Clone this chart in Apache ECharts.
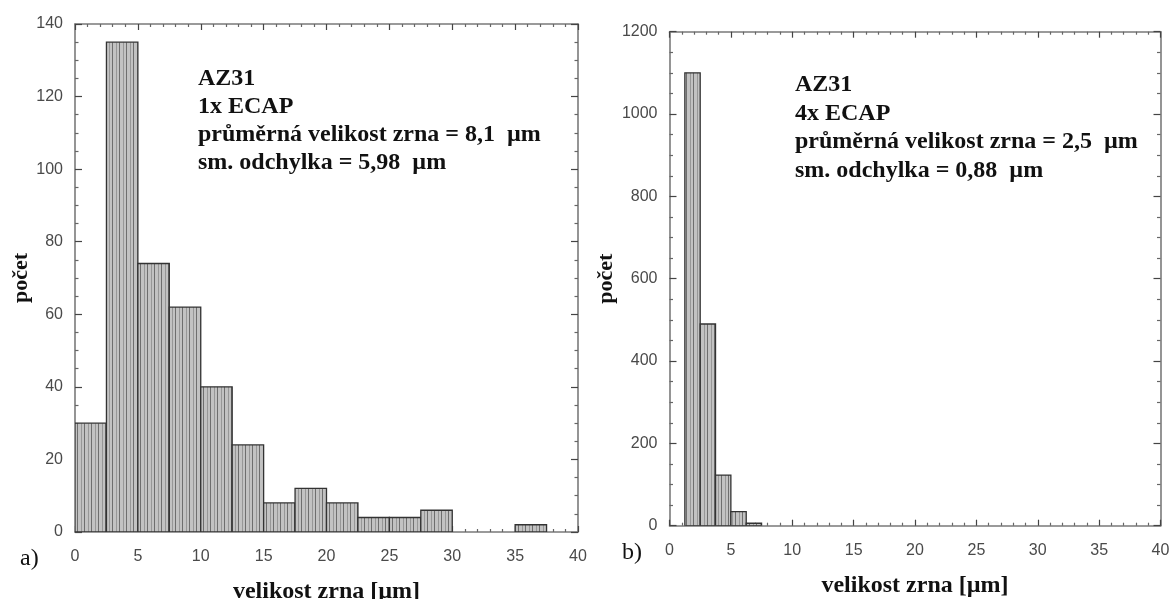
<!DOCTYPE html>
<html>
<head>
<meta charset="utf-8">
<script src="https://cdn.jsdelivr.net/npm/echarts@6/dist/echarts.min.js"></script>
<style>
html,body{margin:0;padding:0;background:#fff;}
#chart{width:1171px;height:599px;}
</style>
</head>
<body>
<div id="chart"></div>
<script>
// ---- data ----
const edgesA = [0, 2.5, 5, 7.5, 10, 12.5, 15, 17.5, 20, 22.5, 25, 27.5, 30, 32.5, 35, 37.5, 40];
const countsA = [30, 135, 74, 62, 40, 24, 8, 12, 8, 4, 4, 6, 0, 0, 2, 0];
const edgesB = [0, 1.25, 2.5, 3.75, 5, 6.25, 7.5, 8.75];
const countsB = [0, 1100, 490, 123, 34, 6, 0];

const annotA = ['AZ31', '1x ECAP', 'průměrná velikost zrna = 8,1  µm', 'sm. odchylka = 5,98  µm'];
const annotB = ['AZ31', '4x ECAP', 'průměrná velikost zrna = 2,5  µm', 'sm. odchylka = 0,88  µm'];
const xName = 'velikost zrna [µm]';
const yName = 'počet';
const panelLabels = ['a)', 'b)'];

// ---- styles ----
function makePattern() {
  const c = document.createElement('canvas');
  c.width = 7; c.height = 4;
  const g = c.getContext('2d');
  g.fillStyle = '#c2c2c2'; g.fillRect(0, 0, 7, 4);
  g.fillStyle = '#6e6e6e'; g.fillRect(0, 0, 1, 4);
  g.fillStyle = '#979797'; g.fillRect(4, 0, 1, 4);
  return c;
}
const pattern = { image: makePattern(), repeat: 'repeat' };

function toBins(edges, counts) {
  return counts.map((c, i) => [edges[i], edges[i + 1], c]);
}

function renderBar(params, api) {
  const x0 = api.value(0), x1 = api.value(1), v = api.value(2);
  if (!v) return null;
  const p0 = api.coord([x0, v]);
  const p1 = api.coord([x1, 0]);
  return {
    type: 'rect',
    shape: { x: p0[0], y: p0[1], width: p1[0] - p0[0], height: p1[1] - p0[1] },
    style: { fill: pattern, stroke: '#333333', lineWidth: 1.3 }
  };
}

const labelFont = { fontFamily: 'Liberation Sans', fontSize: 16, color: '#4a4a4a', formatter: v => String(v) };

function xAx(gridIndex, pos, showLabel) {
  return {
    type: 'value', gridIndex, position: pos, min: 0, max: 40, interval: 5,
    axisLine: { show: true, onZero: false, lineStyle: { color: '#7a7a7a', width: 1.6 } },
    axisTick: { show: true, inside: true, length: 6, lineStyle: { color: '#444', width: 1.2 } },
    minorTick: { show: true, splitNumber: 5, length: 3, lineStyle: { color: '#666', width: 1.2 } },
    splitLine: { show: false },
    axisLabel: Object.assign({ show: showLabel, margin: 17 }, labelFont),
    name: showLabel ? xName : '',
    nameLocation: 'middle', nameGap: gridIndex === 0 ? 48 : 48,
    nameTextStyle: { fontFamily: 'Liberation Serif', fontWeight: 'bold', fontSize: 24, color: '#111' }
  };
}
function yAx(gridIndex, pos, showLabel, max, interval) {
  return {
    type: 'value', gridIndex, position: pos, min: 0, max, interval,
    axisLine: { show: true, onZero: false, lineStyle: { color: '#7a7a7a', width: 1.6 } },
    axisTick: { show: true, inside: true, length: 7, lineStyle: { color: '#444', width: 1.2 } },
    minorTick: { show: true, splitNumber: 4, length: 3.5, lineStyle: { color: '#666', width: 1.2 } },
    splitLine: { show: false },
    axisLabel: Object.assign({ show: showLabel, margin: 12 }, labelFont),
    name: showLabel ? yName : '',
    nameLocation: 'middle', nameRotate: 90,
    nameGap: gridIndex === 0 ? 42 : 52,
    nameTextStyle: { fontFamily: 'Liberation Serif', fontWeight: 'bold', fontSize: 22, color: '#111' }
  };
}

function annot(lines, x, y, lh) {
  return {
    type: 'text', left: x, top: y, z: 100,
    style: { text: lines.join('\n'), font: 'bold 24px "Liberation Serif"', fill: '#111', lineHeight: lh }
  };
}

const chart = echarts.init(document.getElementById('chart'), null, { renderer: 'canvas' });
chart.setOption({
  animation: false,
  backgroundColor: '#ffffff',
  grid: [
    { left: 75, top: 24, width: 503, height: 508, containLabel: false, outerBoundsMode: 'none' },
    { left: 669.5, top: 31.7, width: 491, height: 494, containLabel: false, outerBoundsMode: 'none' }
  ],
  xAxis: [ xAx(0, 'bottom', true), xAx(0, 'top', false), xAx(1, 'bottom', true), xAx(1, 'top', false) ],
  yAxis: [ yAx(0, 'left', true, 140, 20), yAx(0, 'right', false, 140, 20),
           yAx(1, 'left', true, 1200, 200), yAx(1, 'right', false, 1200, 200) ],
  series: [
    { type: 'custom', xAxisIndex: 0, yAxisIndex: 0, renderItem: renderBar,
      encode: { x: [0, 1], y: 2 }, data: toBins(edgesA, countsA), clip: true },
    { type: 'custom', xAxisIndex: 2, yAxisIndex: 2, renderItem: renderBar,
      encode: { x: [0, 1], y: 2 }, data: toBins(edgesB, countsB), clip: true }
  ],
  graphic: [
    annot(annotA, 198, 65, 28),
    annot(annotB, 795, 71, 28.5),
    { type: 'text', left: 20, top: 547, style: { text: panelLabels[0], font: '24px "Liberation Serif"', fill: '#111' } },
    { type: 'text', left: 622, top: 541, style: { text: panelLabels[1], font: '24px "Liberation Serif"', fill: '#111' } }
  ]
});
</script>
</body>
</html>
